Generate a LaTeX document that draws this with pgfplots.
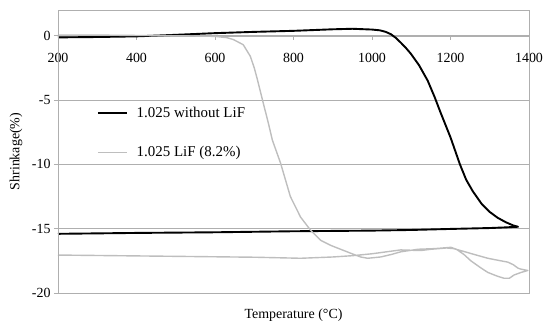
\documentclass[border=0pt]{standalone}
\usepackage{pgfplots}
\pgfplotsset{compat=1.18}
\usepackage{fontspec}
\setmainfont{Liberation Serif}
\definecolor{lifgray}{RGB}{190,190,190}
\definecolor{gridgray}{RGB}{175,175,175}
\begin{document}
\begin{tikzpicture}
\begin{axis}[
  scale only axis,
  width=471bp, height=283bp,
  xmin=200, xmax=1400, ymin=-20, ymax=2,
  axis x line=middle, axis y line=left,
  every inner x axis line/.append style={-},
  every outer y axis line/.append style={-},
  axis line style={gridgray,-},
  hide obscured x ticks=false, hide obscured y ticks=false,
  xtick={200,400,...,1400},
  ytick={-20,-15,-10,-5,0},
  ymajorgrids, major grid style={gridgray, line width=0.6bp},
  tick style={gridgray, line width=0.6bp},
  major tick length=4bp,
  tick align=outside,
  /pgf/number format/assume math mode=true,
  /pgf/number format/1000 sep={},
  ticklabel style={font=\fontsize{14}{16}\selectfont, text=black},
  xticklabel style={yshift=-10bp},
  xlabel={Temperature (°C)},
  ylabel={Shrinkage(\%)},
  every axis x label/.style={at={(rel axis cs:0.5,0)}, anchor=center, yshift=-22bp, font=\fontsize{14}{16}\selectfont},
  every axis y label/.style={at={(rel axis cs:0,0.5)}, xshift=-42bp, rotate=90, anchor=center, font=\fontsize{14}{16}\selectfont},
  legend style={draw=none, fill=none, at={(0.082,0.567)}, anchor=west, inner sep=0pt,
    font=\fontsize{15}{17}\selectfont, row sep=24bp, /tikz/column sep=7bp, legend cell align=left},
  legend image code/.code={\draw[#1] (0bp,0bp) -- (29bp,0bp);},
  after end axis/.code={\draw[gridgray, line width=0.6bp] (rel axis cs:0,0) rectangle (rel axis cs:1,1);},
]
\addplot[black, line width=1.9bp, line join=round] coordinates {
(200,-0.13) (300,-0.1) (400,-0.05) (500,0.07) (600,0.2) (700,0.3) (800,0.38)
(900,0.5) (950,0.54) (1000,0.48) (1020,0.42) (1035,0.3) (1048,0.12) (1060,-0.15) (1072,-0.5)
(1085,-0.9) (1099,-1.4) (1120,-2.3) (1142,-3.5) (1160,-4.8) (1175,-6.0) (1200,-7.9)
(1224,-10.0) (1240,-11.2) (1257,-12.1) (1280,-13.1) (1300,-13.7) (1320,-14.15)
(1341,-14.5) (1360,-14.75) (1372,-14.85)
(1340,-14.9) (1300,-14.95) (1200,-15.02) (1100,-15.1) (1000,-15.15) (800,-15.2)
(600,-15.28) (400,-15.33) (200,-15.4)
};
\addlegendentry{1.025 without LiF}
\addplot[lifgray, line width=1.4bp, line join=round] coordinates {
(200,0.05) (300,0.05) (400,0.02) (500,0.0) (600,-0.05) (630,-0.15) (647,-0.3)
(672,-0.7) (690,-1.6) (700,-2.5) (708,-3.4) (721,-5.0) (736,-6.8) (746,-8.1)
(767,-9.9) (792,-12.5) (818,-14.1) (843,-15.1) (869,-15.9) (895,-16.3) (920,-16.6)
(945,-16.9) (971,-17.2) (989,-17.3) (1022,-17.2) (1050,-17.0) (1073,-16.8)
(1117,-16.6) (1160,-16.55) (1201,-16.45) (1215,-16.6) (1234,-17.0) (1252,-17.5)
(1275,-18.0) (1295,-18.4) (1320,-18.7) (1336,-18.85) (1350,-18.85) (1362,-18.6)
(1380,-18.4) (1397,-18.25)
(1380,-18.15) (1372,-18.07) (1360,-17.8) (1346,-17.6) (1320,-17.45) (1295,-17.3)
(1260,-17.0) (1234,-16.77) (1208,-16.55) (1190,-16.5) (1150,-16.6) (1124,-16.7)
(1073,-16.65) (1000,-16.95) (950,-17.1) (900,-17.2) (818,-17.3) (703,-17.22)
(500,-17.15) (200,-17.05)
};
\addlegendentry{1.025 LiF (8.2\%)}
\end{axis}
\pgfresetboundingbox
\path[use as bounding box] ([shift={(-58bp,-36bp)}]current axis.south west) rectangle ([shift={(15bp,10bp)}]current axis.north east);
\end{tikzpicture}
\end{document}
